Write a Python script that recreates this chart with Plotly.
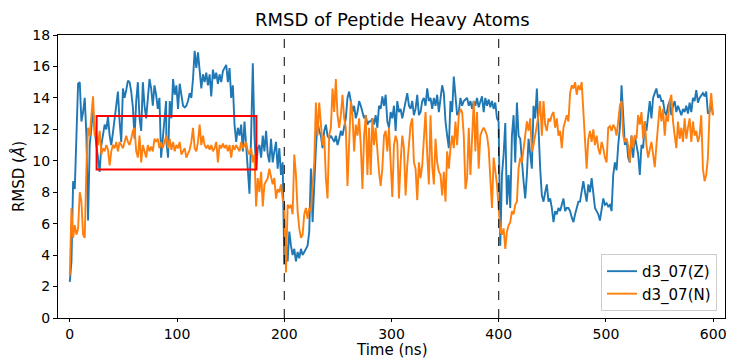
import numpy as np
import plotly.graph_objects as go

# ---- data: RMSD values per time segment (ns, Å) ----
seg_times = [(0.0, 89.8), (90.1, 184.6), (186.1, 279.1), (280.6, 376.7), (378.2, 474.3), (475.8, 599.7)]

z_seg1 = [2.3, 3.6, 8.7, 8.2, 11.6, 14.9, 15.0, 12.5, 13.1, 14.0, 11.6, 6.2, 11.0, 11.9, 13.2, 11.9, 11.0, 9.9, 9.3, 11.0,
          11.8, 12.3, 12.0, 12.8, 11.6, 11.0, 11.8, 12.7, 13.2, 14.4, 12.5, 11.2, 14.6, 14.0, 14.5, 15.1, 15.0, 14.4, 13.4, 11.4,
          13.8, 15.0, 12.7, 11.9, 15.0, 13.5, 12.7, 14.2, 15.2, 14.6, 13.5, 14.8, 14.2, 13.3, 14.0, 10.2, 11.6, 12.7, 13.8]
z_seg2 = [11.2, 10.2, 13.8, 12.7, 15.2, 14.2, 14.8, 13.3, 14.9, 14.0, 13.5, 13.4, 13.5, 13.8, 14.3, 14.0, 15.2, 17.0, 15.9, 16.9,
          15.9, 14.6, 15.5, 15.0, 15.6, 14.8, 15.5, 14.1, 15.8, 15.2, 15.6, 14.9, 15.5, 15.0, 15.7, 15.9, 16.1, 15.0, 15.9, 14.0,
          14.8, 12.3, 11.2, 12.1, 11.6, 12.3, 10.6, 12.5, 11.0, 9.5, 7.9, 11.6, 16.2, 11.6, 9.5, 10.8, 11.0, 10.2, 11.6, 10.6,
          11.9, 10.4]
z_seg3 = [9.9, 11.4, 9.9, 10.6, 11.2, 9.5, 10.8, 9.1, 9.9, 3.4, 4.9, 3.6, 5.5, 4.6, 4.0, 4.4, 3.6, 4.2, 3.8, 4.4,
          4.0, 4.2, 4.4, 4.6, 5.5, 9.5, 6.1, 8.9, 10.8, 12.5, 11.9, 11.6, 10.8, 11.9, 12.3, 11.6, 11.4, 11.6, 11.4, 11.2,
          11.6, 11.0, 11.4, 11.9, 11.6, 12.1, 12.7, 14.0, 14.4, 13.8, 13.1, 13.5, 12.7, 13.1, 13.8, 13.5, 13.1, 12.7, 12.9, 12.3,
          12.5]
z_seg4 = [12.5, 12.7, 12.3, 12.9, 12.1, 13.5, 13.3, 14.1, 13.5, 14.2, 12.5, 12.1, 13.1, 12.7, 13.5, 11.9, 13.8, 13.1, 13.3, 12.7,
          13.3, 13.8, 14.3, 13.5, 13.3, 13.8, 12.9, 13.3, 14.2, 12.9, 13.1, 13.8, 14.0, 13.5, 14.6, 13.8, 14.0, 13.3, 14.0, 13.5,
          14.2, 13.1, 14.0, 14.8, 14.3, 12.5, 11.6, 10.8, 13.8, 13.1, 15.35, 13.8, 12.9, 13.1, 14.0, 13.5, 13.8, 13.9, 14.0, 13.5,
          13.8, 13.3, 13.8]
z_seg5 = [13.5, 14.0, 13.4, 13.8, 14.1, 13.1, 14.0, 13.5, 13.9, 13.4, 13.8, 13.3, 13.7, 12.7, 12.5, 4.6, 9.1, 10.4, 12.4, 7.2,
          9.1, 7.0, 11.6, 12.9, 9.9, 13.7, 11.6, 11.4, 9.9, 8.7, 7.6, 9.1, 11.4, 10.4, 9.5, 13.5, 12.7, 14.6, 11.9, 9.5,
          7.8, 7.4, 8.0, 8.5, 7.4, 7.6, 7.0, 6.1, 6.8, 6.6, 7.0, 6.8, 7.2, 7.6, 6.8, 7.0, 7.0, 6.8, 6.4, 6.1,
          6.6, 7.0, 7.4]
z_seg6 = [7.4, 8.0, 8.7, 8.0, 7.4, 8.5, 8.0, 8.9, 7.8, 7.0, 6.8, 6.6, 6.2, 7.0, 7.6, 7.2, 7.3, 7.1, 7.2, 6.8,
          9.1, 9.9, 9.4, 11.0, 12.1, 14.8, 12.5, 11.0, 11.4, 10.2, 9.9, 11.6, 10.2, 11.6, 11.0, 10.4, 9.1, 11.0, 10.8, 12.5,
          11.9, 12.9, 13.8, 12.7, 14.0, 14.3, 14.6, 14.0, 14.2, 13.8, 13.8, 13.1, 12.9, 13.5, 13.8, 12.9, 13.5, 13.8, 13.1, 13.5,
          13.2, 12.9, 13.3, 13.1, 13.5, 13.0, 13.7, 13.1, 14.0, 13.8, 14.5, 13.7, 14.0, 14.2, 14.3, 14.1, 14.4, 13.0, 13.1, 13.8,
          12.9]

n_seg1 = [2.7, 7.0, 5.1, 5.9, 5.3, 5.7, 8.0, 7.4, 5.3, 5.1, 9.5, 12.1, 11.6, 13.1, 14.1, 11.6, 11.6, 11.0, 11.9, 10.4,
          10.8, 10.6, 11.0, 10.7, 9.7, 10.6, 11.0, 10.8, 11.2, 10.6, 11.2, 11.0, 10.8, 11.2, 11.6, 11.2, 11.0, 11.4, 11.9, 12.1,
          10.6, 10.2, 11.6, 9.9, 11.0, 10.6, 10.2, 11.0, 10.6, 10.9, 10.6, 11.4, 11.2, 11.4, 10.8, 11.2, 10.8, 11.2, 11.6]
n_seg2 = [11.6, 10.8, 11.4, 10.7, 11.2, 10.6, 11.0, 10.8, 11.2, 10.4, 10.6, 10.8, 10.2, 10.4, 10.7, 11.2, 12.1, 10.8, 10.6, 11.2,
          12.3, 11.0, 11.6, 11.0, 10.8, 11.0, 10.7, 11.0, 10.6, 10.8, 11.2, 9.9, 11.0, 10.8, 11.1, 10.8, 11.0, 10.6, 11.0, 10.2,
          11.0, 10.7, 11.0, 10.8, 10.6, 11.2, 10.8, 11.0, 11.2, 10.6, 10.4, 10.8, 9.9, 10.4, 7.1, 8.9, 8.0, 9.3, 7.1, 8.5,
          8.7, 8.9]
n_seg3 = [9.5, 8.9, 8.5, 8.9, 7.6, 8.2, 8.0, 8.5, 7.6, 7.2, 2.9, 7.2, 7.0, 7.2, 6.6, 10.4, 9.1, 6.8, 5.7, 5.1,
          5.3, 6.6, 7.0, 6.3, 7.0, 6.8, 8.7, 9.9, 13.7, 11.6, 13.7, 12.1, 11.0, 11.6, 8.9, 7.6, 11.6, 12.1, 14.6, 13.1,
          15.2, 12.9, 12.1, 12.9, 14.2, 12.7, 12.1, 8.4, 11.6, 13.8, 12.9, 10.6, 12.3, 11.6, 12.7, 11.0, 8.2, 11.6, 12.9, 9.1,
          12.1]
n_seg4 = [9.1, 12.7, 11.0, 12.1, 10.6, 9.3, 8.4, 9.5, 11.6, 11.9, 10.6, 12.1, 9.9, 7.7, 11.0, 11.6, 11.2, 7.6, 9.9, 11.6,
          10.8, 7.8, 9.7, 11.0, 12.3, 12.7, 9.9, 9.5, 7.5, 9.9, 8.9, 9.7, 11.6, 13.1, 10.4, 8.5, 12.9, 9.7, 8.5, 11.4,
          9.9, 9.3, 9.1, 7.8, 9.3, 7.4, 10.6, 9.5, 10.8, 11.6, 10.8, 12.5, 11.0, 12.9, 13.3, 13.1, 11.6, 8.2, 8.9, 12.1,
          9.1, 11.2, 13.8]
n_seg5 = [10.6, 13.1, 9.5, 11.6, 11.9, 12.1, 11.9, 11.6, 10.8, 8.7, 7.0, 10.2, 9.3, 8.5, 7.0, 5.5, 5.3, 5.7, 4.4, 5.5,
          5.9, 6.1, 6.8, 6.6, 7.2, 7.4, 9.5, 10.2, 9.9, 10.6, 11.6, 12.5, 11.9, 12.7, 10.6, 11.0, 11.6, 12.1, 12.9, 13.8,
          11.6, 13.8, 12.3, 11.9, 12.7, 12.5, 12.9, 13.1, 12.1, 12.7, 11.6, 11.9, 10.8, 12.1, 12.5, 12.9, 12.5, 14.3, 14.8, 14.6,
          15.0, 14.2, 14.8]
n_seg6 = [14.5, 15.0, 13.3, 11.0, 9.5, 11.4, 11.9, 11.2, 12.0, 11.0, 11.6, 10.8, 10.4, 11.2, 10.8, 10.2, 9.9, 12.1, 12.2, 11.9,
          12.3, 12.1, 11.6, 12.5, 13.5, 13.8, 11.6, 11.2, 11.4, 11.0, 9.9, 11.6, 10.8, 11.6, 11.4, 12.9, 12.3, 13.1, 11.4, 12.5,
          11.0, 10.2, 10.8, 11.2, 10.4, 9.6, 11.0, 12.3, 13.5, 12.5, 13.3, 11.6, 12.9, 12.5, 13.8, 14.2, 12.5, 11.6, 10.8, 12.5,
          11.4, 12.1, 11.2, 12.7, 11.4, 12.1, 12.7, 11.2, 12.5, 11.6, 11.9, 11.2, 11.6, 12.9, 9.5, 8.7, 9.1, 10.2, 13.1, 14.3,
          12.9]

z_segments = [z_seg1, z_seg2, z_seg3, z_seg4, z_seg5, z_seg6]
n_segments = [n_seg1, n_seg2, n_seg3, n_seg4, n_seg5, n_seg6]

x_ticks = [0, 100, 200, 300, 400, 500, 600]
y_ticks = [0, 2, 4, 6, 8, 10, 12, 14, 16, 18]
restart_times = [200, 400]
box_x = (25, 174)
box_y = (9.45, 12.85)


def build(segments):
    t, v = [], []
    for (a, b), vals in zip(seg_times, segments):
        t.extend(np.linspace(a, b, len(vals)).tolist())
        v.extend(vals)
    return t, v


tz, vz = build(z_segments)
tn, vn = build(n_segments)

fig = go.Figure()
fig.add_trace(go.Scatter(x=tz, y=vz, mode="lines", name="d3_07(Z)",
                         line=dict(color="#1f77b4", width=1.9)))
fig.add_trace(go.Scatter(x=tn, y=vn, mode="lines", name="d3_07(N)",
                         line=dict(color="#ff7f0e", width=1.9)))

for rt in restart_times:
    fig.add_shape(type="line", x0=rt, x1=rt, y0=0, y1=1, xref="x", yref="paper",
                  line=dict(color="black", width=1, dash="dash"), layer="above")

fig.add_shape(type="rect", x0=box_x[0], x1=box_x[1], y0=box_y[0], y1=box_y[1],
              xref="x", yref="y", line=dict(color="red", width=2), fillcolor="rgba(0,0,0,0)",
              layer="above")

font = "DejaVu Sans, Liberation Sans, sans-serif"
fig.update_layout(
    width=731, height=359,
    margin=dict(l=58, r=4, t=35, b=41),
    paper_bgcolor="white", plot_bgcolor="white",
    font=dict(family=font, size=14, color="black"),
    title=dict(text="RMSD of Peptide Heavy Atoms", x=0.5367, xanchor="center",
               y=1 - 20 / 359, yanchor="middle", yref="container",
               font=dict(size=18, family=font, color="black")),
    showlegend=True,
    legend=dict(x=0.988, y=0.025, xanchor="right", yanchor="bottom",
                bgcolor="rgba(255,255,255,0.8)", bordercolor="#cccccc", borderwidth=1,
                font=dict(size=15, family=font, color="black"),
                tracegroupgap=0, itemwidth=30),
)
fig.add_annotation(text="Time (ns)", xref="paper", yref="paper", x=0.5, y=-(359.5 - 318) / 283,
                   xanchor="center", yanchor="bottom", showarrow=False, borderpad=0,
                   font=dict(size=15, family=font, color="black"))
fig.update_xaxes(range=[-11, 611], tickvals=x_ticks, ticks="outside", ticklen=3,
                 tickcolor="black", showline=True, linecolor="black", linewidth=1,
                 mirror=True, showgrid=False, zeroline=False,
                 tickfont=dict(size=14))
fig.update_yaxes(range=[0, 18], tickvals=y_ticks, ticks="outside", ticklen=4,
                 tickcolor="black", showline=True, linecolor="black", linewidth=1,
                 mirror=True, showgrid=False, zeroline=False,
                 title=dict(text="RMSD (<i>Å</i>)", standoff=4, font=dict(size=15)),
                 tickfont=dict(size=14))

fig.write_html("out.html")
